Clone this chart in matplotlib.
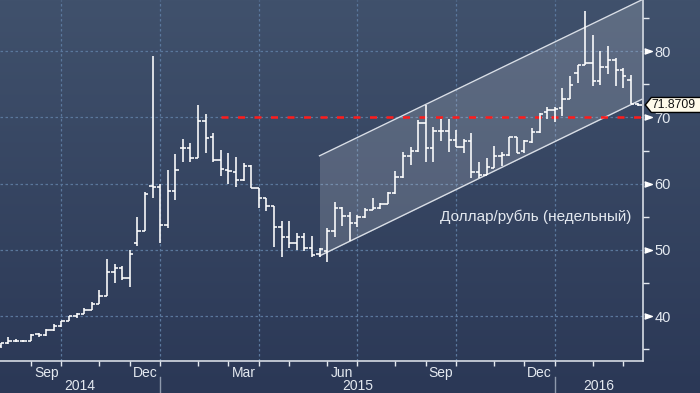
import matplotlib
matplotlib.use('Agg')
import matplotlib.pyplot as plt
import matplotlib.dates as mdates
import matplotlib.transforms as mtransforms
from matplotlib.patches import Polygon
import numpy as np
import pandas as pd

# weekly USD/RUB bars (week ending Friday)
week_ends = pd.date_range('2014-08-08', periods=85, freq='W-FRI')

opens = [35.5, 35.9, 36.3, 36.2, 36.3, 37.3, 37.2, 37.9, 38.5, 39.3,
         40.1, 40.3, 40.9, 41.9, 43.0, 46.7, 47.3, 45.7, 51.1, 52.9,
         59.7, 59.5, 53.7, 58.9, 65.4, 65.4, 63.8, 69.5, 67.0, 63.6,
         62.0, 61.7, 60.5, 62.7, 59.3, 57.9, 56.7, 53.5, 51.9, 51.0,
         51.9, 50.3, 49.4, 49.9, 52.8, 56.4, 55.1, 54.1, 54.9, 56.0,
         56.3, 57.0, 58.6, 61.0, 64.1, 64.9, 69.2, 65.4, 68.0, 68.0,
         66.6, 65.6, 66.5, 61.8, 61.3, 62.4, 64.1, 64.3, 67.1, 64.9,
         66.3, 67.8, 70.8, 71.1, 71.4, 72.7, 76.7, 77.9, 78.2, 75.5,
         77.6, 78.7, 77.1, 75.6, 72.0]
highs = [36.0, 36.8, 36.5, 36.4, 37.3, 37.5, 38.1, 38.9, 39.3, 40.0,
         40.5, 41.2, 42.1, 43.9, 48.7, 47.9, 47.6, 50.0, 54.9, 58.7,
         79.2, 60.0, 62.1, 64.4, 66.7, 66.2, 71.9, 70.5, 67.6, 65.1,
         64.6, 64.0, 63.1, 62.8, 59.3, 57.9, 56.7, 54.3, 54.3, 52.5,
         52.5, 52.1, 50.3, 53.3, 57.2, 56.5, 55.8, 55.3, 56.3, 57.8,
         57.1, 58.8, 61.9, 64.8, 65.5, 69.6, 71.9, 68.6, 69.8, 69.8,
         68.1, 66.8, 67.6, 63.3, 63.8, 65.7, 64.8, 67.1, 67.1, 66.6,
         68.4, 70.6, 71.5, 71.5, 74.4, 76.2, 77.9, 86.1, 82.4, 80.0,
         80.8, 78.9, 77.4, 76.4, 72.1]
lows = [35.2, 35.8, 36.1, 36.1, 36.2, 36.9, 37.1, 37.8, 38.4, 39.3,
        39.8, 40.3, 40.9, 41.8, 43.0, 45.0, 45.4, 44.4, 50.6, 52.8,
        57.8, 51.0, 53.3, 57.5, 63.2, 63.2, 63.8, 64.7, 63.2, 61.2,
        59.9, 59.5, 60.4, 59.3, 56.3, 55.9, 50.5, 49.0, 50.3, 50.0,
        49.9, 49.0, 49.0, 48.2, 51.9, 53.6, 51.4, 53.5, 54.8, 56.0,
        56.2, 56.9, 58.5, 60.8, 62.8, 64.8, 63.3, 63.2, 66.5, 64.8,
        65.5, 64.6, 60.8, 60.9, 61.3, 62.3, 62.6, 64.2, 64.6, 64.6,
        66.1, 67.7, 69.7, 69.3, 70.2, 72.7, 75.2, 77.9, 74.7, 74.9,
        76.6, 74.7, 74.5, 72.0, 71.7]
closes = [36.0, 36.3, 36.3, 36.2, 37.2, 37.2, 37.9, 38.5, 39.3, 40.0,
          40.4, 40.9, 41.8, 43.0, 46.7, 47.3, 45.8, 49.4, 52.9, 58.4,
          59.5, 53.7, 58.9, 62.1, 65.4, 63.8, 69.5, 66.9, 63.6, 62.2,
          61.9, 60.6, 62.6, 59.4, 57.9, 56.7, 53.5, 51.9, 51.0, 51.9,
          50.3, 49.2, 50.1, 52.8, 56.4, 55.1, 54.1, 54.9, 56.0, 56.3,
          57.0, 58.6, 61.0, 64.1, 64.9, 69.1, 65.4, 67.9, 68.0, 66.6,
          65.6, 66.5, 61.8, 61.3, 62.5, 64.1, 64.3, 67.1, 64.7, 66.5,
          67.8, 70.5, 71.1, 71.3, 72.7, 74.9, 77.9, 78.2, 75.5, 77.6,
          78.7, 77.1, 76.2, 72.0, 71.8709]

# trend channel and resistance
channel_dates = pd.to_datetime(['2015-05-29', '2016-03-21'])
channel_lower = [49.1, 72.7]
channel_upper = [64.2, 87.7]
resistance_start = pd.Timestamp('2015-02-27')
resistance_level = 70.0

y_ticks = [40, 50, 60, 70, 80]
y_minor = [35, 45, 55, 65, 75, 85]
label_months = ['Sep', 'Dec', 'Mar', 'Jun', 'Sep', 'Dec']
title = 'Доллар/рубль (недельный)'

FONT = 'Liberation Sans'
LIGHT = '#e4e9f0'
GRID = '#5a779c'

W, H = 700, 393
fig = plt.figure(figsize=(W / 100, H / 100), dpi=100)

# background gradient
bg = fig.add_axes([0, 0, 1, 1], zorder=0)
grad = np.linspace(0, 1, 256).reshape(-1, 1)
top = np.array([64, 81, 108]) / 255
bot = np.array([43, 56, 86]) / 255
img = top + (bot - top) * grad[:, :, None]
bg.imshow(img, aspect='auto', extent=[0, 1, 0, 1])
bg.axis('off')

ax = fig.add_axes([0, 32.3 / H, 643.3 / W, 360.7 / H], zorder=1)
ax.set_facecolor('none')

x = mdates.date2num(week_ends)
xmin = x[0] - 0.65
xmax = x[0] + 592.6
ax.set_xlim(xmin, xmax)
ax.set_ylim(33.3, 87.7)

# channel
cx = mdates.date2num(channel_dates)
ax.fill_between(cx, channel_lower, channel_upper, color='white', alpha=0.16,
                lw=0, zorder=1)
ax.plot(cx, channel_lower, color='#d9dee6', lw=1.0, zorder=2)
ax.plot(cx, channel_upper, color='#d9dee6', lw=1.0, zorder=2)

# month ticks snap to the first weekly bar of each month
month_starts = pd.date_range('2014-09-01', '2016-04-01', freq='MS')
tick_dates = [week_ends[week_ends >= m][0] for m in month_starts if (week_ends >= m).any()]
tick_x = mdates.date2num(pd.DatetimeIndex(tick_dates))

# grid
quarter_x = [t for t, d in zip(tick_x, tick_dates) if d.month in (1, 4, 7, 10)]
for qx in quarter_x:
    ax.axvline(qx, color=GRID, lw=0.9, ls=(0, (2, 2)), zorder=0.5)
for yv in y_ticks:
    ax.axhline(yv, color=GRID, lw=0.9, ls=(0, (2, 2)), zorder=0.5)

# resistance
ax.plot([mdates.date2num(resistance_start), xmax], [resistance_level] * 2,
        color='#ff1c1c', lw=1.8, ls=(0, (2.8, 3.8)), zorder=3)

# OHLC bars
half = 3.1
ax.vlines(x, lows, highs, color='white', lw=1.15, zorder=4)
ax.hlines(opens, x - half, x, color='white', lw=1.15, zorder=4)
ax.hlines(closes, x, x + half, color='white', lw=1.15, zorder=4)

ax.text(0.684, 0.40, title, transform=ax.transAxes, fontsize=11,
        family=FONT, color=LIGHT, va='center', ha='left', zorder=5)

# spines
for s in ['top', 'left']:
    ax.spines[s].set_visible(False)
for s in ['bottom', 'right']:
    ax.spines[s].set_color(LIGHT)
    ax.spines[s].set_linewidth(1.1)

# y axis on right
ax.yaxis.tick_right()
ax.set_yticks(y_ticks)
ax.set_yticklabels([str(v) for v in y_ticks], family=FONT, fontsize=10.5, color=LIGHT)
ax.set_yticks(y_minor, minor=True)
ax.tick_params(axis='y', which='major', length=0, pad=8)
ax.tick_params(axis='y', which='minor', length=4, width=1, color=LIGHT, direction='out')
ax.tick_params(axis='y', which='both', left=False)
tri = [(-1, 0.7), (1, 0), (-1, -0.7)]
ytrans = mtransforms.blended_transform_factory(ax.transAxes, ax.transData)
ax.plot([1 + 4.5 / 643.3] * len(y_ticks), y_ticks, ls='none', marker=tri, ms=5.5,
        color='white', transform=ytrans, clip_on=False, zorder=6)

# x axis: month ticks + quarter labels
ax.set_xticks(tick_x, minor=True)
label_pos = []
for i in range(len(tick_dates) - 1):
    if tick_dates[i].month in (3, 6, 9, 12):
        label_pos.append((tick_x[i] + tick_x[i + 1]) / 2)
ax.set_xticks(label_pos)
ax.set_xticklabels(label_months, family=FONT, fontsize=10, color=LIGHT)
ax.tick_params(axis='x', which='major', length=0, pad=3.5)
ax.tick_params(axis='x', which='minor', length=3.5, width=1, color=LIGHT, direction='out')

# year row
xtrans = mtransforms.blended_transform_factory(ax.transData, ax.transAxes)
jan_x = [t for t, d in zip(tick_x, tick_dates) if d.month == 1]
bounds = [xmin] + jan_x + [xmax]
for (a, b), yr in zip(zip(bounds[:-1], bounds[1:]), ['2014', '2015', '2016']):
    ax.text((a + b) / 2, -0.071, yr, transform=xtrans, ha='center', va='center',
            family=FONT, fontsize=10, color=LIGHT)
for jx in jan_x:
    ax.plot([jx, jx], [-0.045, -0.1], transform=xtrans, color='#8e99ac', lw=1,
            clip_on=False)

# last value label
fig.canvas.draw()
_, yd = ax.transData.transform((xmin, closes[-1]))
xd = ax.transAxes.transform((1, 0))[0]
hh = 7.5
poly = Polygon([(xd + 2, yd), (xd + 8, yd + hh), (W + 5, yd + hh), (W + 5, yd - hh),
                (xd + 8, yd - hh)], closed=True, fc='#fffbea', ec='black', lw=1,
               transform=mtransforms.IdentityTransform(), zorder=10)
fig.add_artist(poly)
fig.text((xd + 8.5) / W, yd / H, f'{closes[-1]:.4f}', family=FONT, fontsize=8.8,
         color='#111111', va='center', ha='left', zorder=11)

fig.savefig('out.png', dpi=100)
